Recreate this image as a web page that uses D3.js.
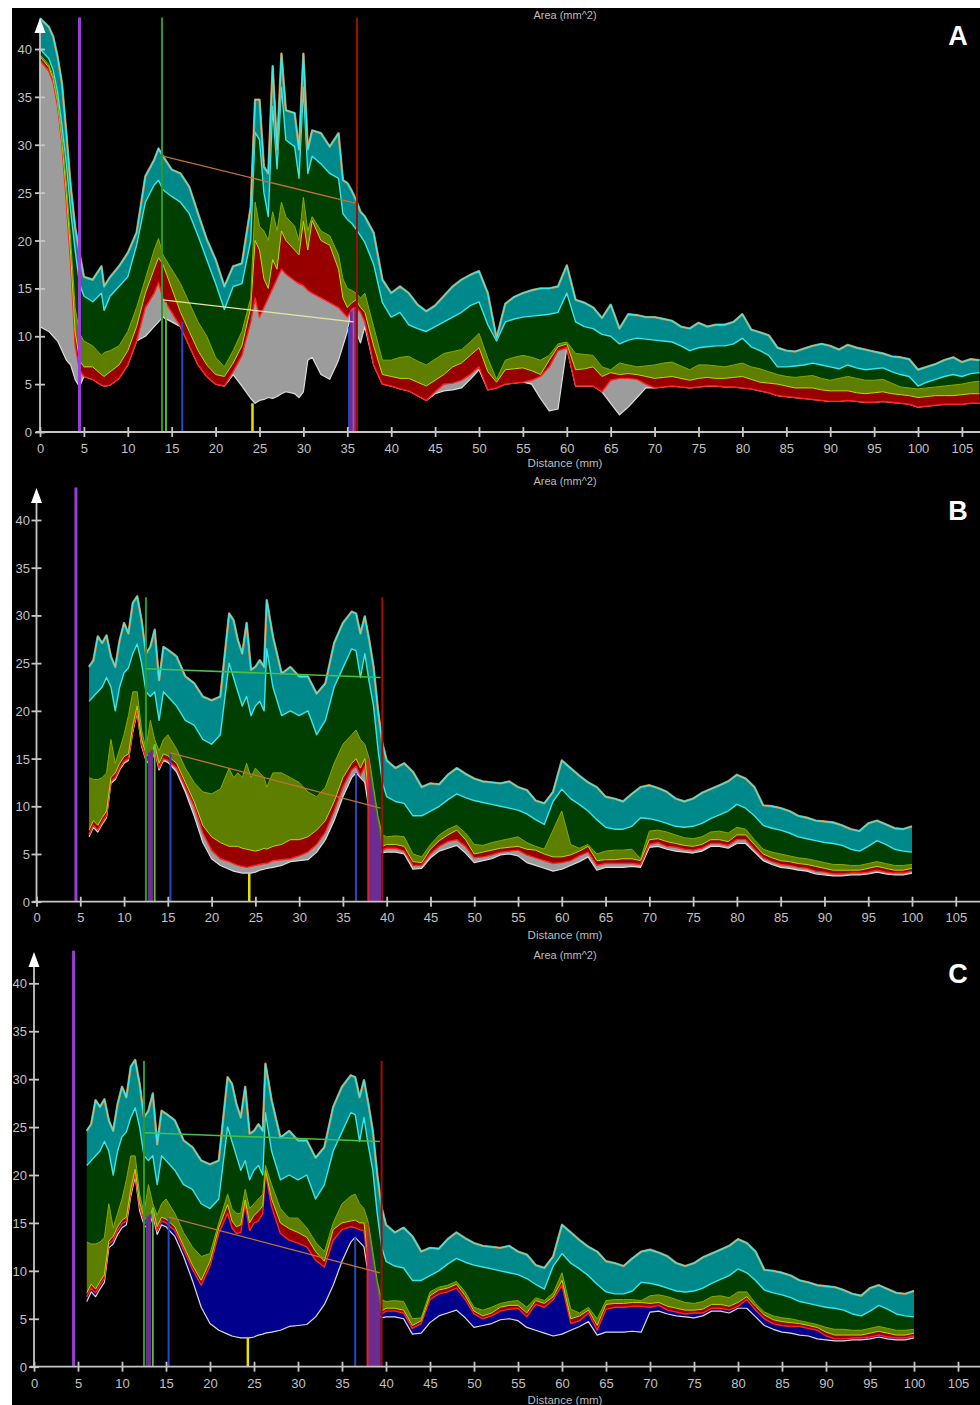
<!DOCTYPE html>
<html>
<head>
<meta charset="utf-8">
<script src="https://cdn.jsdelivr.net/npm/d3@7"></script>
<style>
  body { margin: 0; background: #fff; }
  svg { display: block; }
</style>
</head>
<body>
<script>
// ---- panel A: distance (mm) and layer boundaries (mm^2) ----
const distA = [0, 1, 1.5, 2, 2.5, 3, 3.5, 4, 4.5, 5, 6, 7, 7.3, 8, 9, 10, 11, 12, 13, 13.5,
  14, 15, 16, 17, 18, 19, 20, 21, 22, 23, 24, 24.5, 25, 25.5, 26, 26.5, 27, 27.5, 28, 29,
  29.5, 30, 30.5, 31, 32, 33, 34, 34.5, 35, 35.5, 36, 36.5, 37, 38, 39, 40,
  41, 42, 43, 44, 45, 46, 47, 48, 49, 50, 51, 52, 53, 54, 55, 56, 57, 58, 59, 60,
  61, 62, 63, 64, 65, 66, 67, 68, 69, 70, 71, 72, 73, 74, 75, 76, 77, 78, 79, 80,
  81, 82, 83, 84, 85, 86, 87, 88, 89, 90, 91, 92, 93, 94, 95, 96, 97, 98, 99, 100,
  101, 102, 103, 104, 105, 106, 107];
const tealHiA = [43.2, 42.3, 41.3, 39.2, 36.4, 31.2, 25.6, 21.4, 18.7, 16.2,
  15.9, 17.3, 15.2, 16.2, 17.3, 18.7, 20.8, 26.7, 28.4, 29.6,
  28.8, 27.4, 27.0, 25.6, 22.8, 20.1, 18.0, 15.2, 17.3, 17.6,
  23.5, 34.7, 34.7, 27.7, 27.0, 38.2, 29.5, 39.5, 33.6, 33.3,
  29.5, 39.5, 29.5, 31.5, 31.2, 29.8, 31.2, 26.3, 26.0, 25.2,
  24.2, 23.0, 22.5, 20.8, 15.9, 14.5,
  15.2, 14.5, 13.3, 12.6, 13.2, 14.2, 15.2, 15.9, 16.4, 16.8,
  14.5, 9.8, 13.4, 14.1, 14.5, 14.8, 15.0, 15.0, 15.2, 17.4,
  13.8, 13.5, 13.0, 11.9, 13.3, 10.8, 12.3, 12.2, 12.0, 12.0,
  11.8, 11.6, 11.0, 10.8, 11.4, 11.0, 11.2, 11.2, 11.5, 12.3,
  10.7, 10.4, 10.1, 8.8, 8.5, 8.4, 8.7, 9.0, 9.2, 9.0,
  8.6, 9.1, 8.8, 8.6, 8.4, 8.2, 7.9, 7.8, 7.6, 6.5,
  6.8, 7.1, 7.5, 7.8, 7.3, 7.6, 7.5];
const tealLoA = [40, 39, 37.8, 35.5, 32, 28, 23, 19, 15.5, 14.2,
  13.6, 14.5, 12.7, 14.2, 15.2, 16.2, 19.5, 24, 25.8, 26.3,
  25.3, 24.6, 24, 22.8, 20.5, 18, 15.5, 12.8, 15.2, 15.5,
  20, 31.3, 30.5, 25, 22.5, 34, 27.5, 36, 30.5, 29.8,
  26.5, 36, 27, 28.8, 28, 27, 26.5, 22.8, 22.2, 21.8,
  21.2, 20.5, 19.8, 17.5, 13.5, 12,
  12.5, 11.2, 10.8, 10.5, 11.0, 11.5, 12.0, 12.5, 13.2, 13.6,
  11.2, 9.5, 11.5, 11.8, 12.0, 12.1, 12.2, 12.3, 12.5, 14.5,
  11.5, 11.0, 10.8, 10.2, 10.0, 9.2, 9.6, 9.8, 9.7, 9.6,
  9.5, 9.4, 9.0, 8.5, 8.8, 8.9, 9.0, 9.0, 9.2, 9.8,
  8.9, 8.5, 8.0, 6.8, 6.8, 6.9, 7.0, 7.2, 7.0, 6.8,
  6.6, 7.0, 6.7, 6.5, 6.6, 6.7, 6.3, 6.0, 5.8, 4.8,
  5.2, 5.5, 5.8, 6.0, 5.8, 6.1, 6.2];
const oliveHiA = [39.4, 38.4, 37.2, 34.8, 31, 26, 20, 13, 10.3, 9.5,
  9.0, 8.0, 8.3, 8.5, 9.0, 10.5, 13.0, 16.0, 19.0, 20.2,
  18.5, 17.0, 15.5, 13.5, 11.5, 10.0, 7.8, 6.8, 8.5, 10.5,
  14.0, 24.0, 21.5, 21.0, 20.0, 23.0, 21.0, 24.0, 22.5, 21.5,
  20.0, 24.5, 21.0, 22.5, 21.0, 20.5, 18.5, 16.0, 15.0, 14.8,
  14.5, 14.0, 14.5, 11.0, 7.5, 7.5,
  7.8, 7.9, 7.4, 7.0, 7.6, 8.2, 8.4, 8.6, 9.4, 10.3,
  7.7, 5.5, 7.5, 7.8, 8.0, 7.8, 7.5, 8.0, 9.2, 9.4,
  8.2, 8.1, 8.0, 6.8, 6.5, 7.2, 7.0, 6.8, 6.9, 7.0,
  7.2, 7.3, 6.9, 6.5, 7.0, 7.0, 6.9, 6.8, 7.0, 7.2,
  6.8, 6.6, 6.3, 6.0, 5.8, 5.7, 5.8, 5.9, 5.6, 5.4,
  5.6, 5.8, 5.6, 5.4, 5.4, 5.5, 5.1, 4.7, 4.6, 4.5,
  4.6, 4.7, 4.8, 4.9, 5.0, 5.2, 5.3];
const redHiA = [39.2, 38.1, 36.9, 34.5, 30.5, 25, 18.5, 10.5, 7.5, 6.8,
  6.8, 6.0, 5.8, 6.3, 7.0, 8.5, 11.0, 14.5, 17.0, 18.2,
  17.5, 15.0, 12.5, 10.5, 8.5, 7.0, 6.0, 5.8, 7.2, 9.0,
  13.0, 20.0, 19.0, 16.0, 15.0, 18.0, 17.0, 21.0, 20.0, 19.0,
  18.5, 22.0, 19.0, 22.1, 20.0, 19.5, 17.0, 14.0, 13.0, 13.5,
  13.8, 13.0, 12.5, 9.0, 6.0, 5.8,
  5.6, 5.6, 5.2, 4.8, 5.4, 6.0, 6.8, 7.2, 8.0, 8.8,
  6.3, 5.2, 6.5, 6.6, 6.7, 6.4, 6.0, 7.5, 8.9, 9.2,
  6.5, 6.6, 6.8, 5.8, 6.2, 6.0, 6.1, 6.0, 5.8, 5.6,
  5.7, 5.8, 5.6, 5.4, 5.6, 5.7, 5.6, 5.6, 5.7, 5.8,
  5.5, 5.2, 5.1, 5.0, 4.8, 4.6, 4.6, 4.6, 4.4, 4.3,
  4.3, 4.3, 4.1, 4.0, 4.1, 4.2, 4.0, 3.9, 3.8, 3.6,
  3.7, 3.8, 3.8, 3.8, 3.9, 4.0, 4.0];
const redLoA = [38.8, 37.7, 36.5, 34.0, 30.0, 24.0, 17.5, 9.0, 6.5, 5.8,
  5.5, 4.9, 4.8, 4.9, 5.6, 7.0, 9.5, 13.0, 14.5, 15.6,
  14.0, 12.5, 11.0, 9.0, 7.0, 5.8, 5.0, 4.8, 6.3, 8.0,
  11.5, 14.0, 12.0, 13.0, 14.0, 15.0, 16.0, 17.0, 16.5, 15.8,
  15.5, 15.3, 14.8, 14.5, 14.0, 13.5, 13.0, 12.5, 12.0, 12.8,
  13.0, 12.5, 11.5, 7.0, 5.0, 4.8,
  4.5, 4.3, 3.8, 3.3, 4.2, 5.0, 5.1, 5.4, 6.0, 6.8,
  4.4, 4.6, 5.0, 5.1, 5.2, 5.4, 5.8, 6.8, 8.5, 8.8,
  4.8, 4.8, 4.8, 4.2, 5.4, 5.6, 5.6, 5.5, 5.0, 4.6,
  4.7, 4.8, 4.7, 4.6, 4.7, 4.8, 4.8, 4.7, 4.7, 4.6,
  4.5, 4.3, 4.1, 3.8, 3.7, 3.6, 3.5, 3.4, 3.3, 3.2,
  3.2, 3.3, 3.2, 3.1, 3.1, 3.2, 3.1, 3.0, 2.9, 2.6,
  2.7, 2.8, 2.9, 2.9, 2.9, 3.0, 3.0];
const lumenA = [11.0, 10.5, 10.0, 9.5, 8.5, 7.5, 7.0, 5.5, 4.7, 5.8,
  5.5, 4.9, 4.8, 4.9, 5.6, 7.0, 9.5, 10.0, 11.0, 11.5,
  12.0, 11.5, 11.0, 9.0, 7.0, 5.8, 5.0, 4.8, 6.0, 4.8,
  3.5, 3.0, 3.3, 3.4, 3.6, 3.5, 3.7, 4.0, 4.2, 4.0,
  3.6, 4.2, 7.5, 7.8, 6.0, 5.5, 7.5, 9.0, 10.5, 12.8,
  10.5, 9.3, 11.0, 7.0, 5.0, 4.8,
  4.5, 4.3, 3.8, 3.3, 4.0, 4.3, 4.4, 4.6, 5.5, 6.5,
  4.4, 4.6, 5.0, 5.1, 5.2, 5.0, 3.5, 2.2, 2.4, 8.8,
  4.8, 4.8, 4.8, 4.2, 3.0, 1.8, 2.6, 3.6, 4.6, 4.6,
  4.7, 4.8, 4.7, 4.6, 4.7, 4.8, 4.8, 4.7, 4.7, 4.6,
  4.5, 4.3, 4.1, 3.8, 3.7, 3.6, 3.5, 3.4, 3.3, 3.2,
  3.2, 3.3, 3.2, 3.1, 3.1, 3.2, 3.1, 3.0, 2.9, 2.6,
  2.7, 2.8, 2.9, 2.9, 2.9, 3.0, 3.0];

// ---- panels B and C share the distance grid ----
const distBC = [6, 6.5, 7, 7.5, 8, 8.5, 9, 9.5, 10, 10.5, 11, 11.5, 12, 12.5, 13, 13.5,
  14, 14.5, 15, 16, 17, 18, 19, 20, 21, 22, 22.5, 23, 23.5, 24, 24.5, 25, 25.5, 26, 26.3,
  27, 28, 29, 30, 31, 32, 33, 34, 35, 36, 36.5, 37, 37.5, 38, 38.5, 39, 39.5, 40,
  41, 42, 43, 44, 45, 46, 47, 48, 49, 50, 51, 52, 53, 54, 55, 56, 57, 58, 59, 60,
  61, 62, 63, 64, 65, 66, 67, 68, 69, 70, 71, 72, 73, 74, 75, 76, 77, 78, 79, 80,
  81, 82, 83, 84, 85, 86, 87, 88, 89, 90, 91, 92, 93, 94, 95, 96, 97, 98, 99, 100];
const tealHiB = [24.6, 25.3, 27.8, 27.1, 27.9, 25.7, 24.6, 27.4, 29.2, 28.1,
  31.3, 32.0, 29.5, 26.0, 26.7, 28.5, 23.2, 26.7, 26.4, 25.7,
  23.6, 22.9, 21.5, 21.1, 21.5, 30.2, 29.5, 27.4, 26.0, 29.2,
  24.3, 24.6, 25.3, 24.6, 31.6, 27.8, 23.9, 24.6, 23.6, 23.6,
  21.8, 22.9, 27.1, 29.2, 30.4, 30.2, 28.1, 29.9, 27.4, 24.6,
  20.1, 16.6, 14.8,
  14.0, 14.5, 13.6, 12.0, 12.4, 12.3, 13.3, 14.0, 13.4, 12.9,
  12.6, 12.5, 12.4, 12.6, 12.0, 11.7, 10.6, 10.3, 11.5, 14.8,
  14.0, 13.2, 12.5, 12.0, 11.0, 10.8, 10.5, 11.3, 12.0, 12.2,
  11.9, 11.5, 10.8, 10.5, 10.8, 11.4, 11.8, 12.2, 12.6, 13.3,
  12.9, 12.0, 10.1, 10.0, 9.8, 9.5, 9.0, 8.8, 8.5, 8.4,
  8.3, 8.0, 7.6, 7.4, 8.2, 8.5, 8.1, 7.7, 7.6, 7.9];
const tealLoB = [21.0, 21.5, 22.0, 22.5, 23.5, 22.5, 20.0, 22.5, 24.0, 24.5,
  26.0, 27.0, 25.0, 22.0, 21.5, 22.0, 19.0, 22.0, 21.5, 20.5,
  19.0, 18.5, 17.0, 16.5, 17.5, 25.0, 23.5, 22.0, 20.5, 21.5,
  19.5, 20.5, 21.0, 20.0, 26.5, 22.5, 19.5, 20.0, 19.5, 20.0,
  17.5, 19.0, 22.5, 24.5, 26.5, 26.3, 23.5, 26.0, 23.0, 20.5,
  16.0, 12.5, 11.0,
  10.5, 10.3, 9.0, 9.0, 9.5, 10.0, 10.7, 11.3, 10.9, 10.6,
  10.4, 10.2, 10.0, 9.8, 9.6, 9.2, 8.6, 8.1, 10.5, 11.8,
  10.8, 10.2, 9.5, 8.6, 7.8, 7.6, 7.6, 7.9, 8.8, 8.7,
  8.5, 8.2, 7.9, 7.8, 7.9, 8.2, 8.7, 9.1, 9.5, 10.2,
  9.8, 9.0, 8.0, 7.7, 7.5, 7.2, 6.8, 6.6, 6.4, 6.2,
  6.1, 5.9, 5.5, 5.3, 5.8, 6.4, 6.0, 5.5, 5.3, 5.2];
const oliveHiB = [13.0, 12.8, 12.8, 13.0, 13.5, 17.0, 14.5, 16.0, 17.5, 19.5,
  22.0, 22.0, 18.0, 16.0, 19.0, 17.0, 15.8, 17.0, 17.5, 16.0,
  14.0, 12.5, 11.5, 11.3, 11.8, 14.0, 13.0, 13.5, 13.0, 14.5,
  13.0, 14.0, 13.5, 13.0, 12.0, 13.5, 13.5, 13.0, 12.5, 11.5,
  11.0, 12.0, 14.5, 16.5, 17.5, 18.0, 17.0, 16.5, 15.0, 12.0,
  9.0, 7.0, 6.8,
  6.9, 6.8, 5.0, 4.7, 6.0, 7.0, 7.6, 8.0, 7.2, 6.0,
  5.9, 6.2, 6.4, 6.6, 6.8, 6.2, 5.8, 5.5, 7.5, 9.5,
  6.0, 5.6, 6.0, 5.0, 5.3, 5.4, 5.4, 5.5, 4.5, 7.4,
  7.5, 7.3, 7.0, 6.7, 6.6, 6.8, 7.3, 7.4, 7.2, 7.8,
  7.6, 6.5, 5.5, 5.2, 5.0, 4.8, 4.6, 4.5, 4.3, 4.1,
  3.9, 3.9, 3.8, 3.8, 4.0, 4.2, 4.0, 3.8, 3.8, 3.9];
const redHiB = [7.5, 8.5, 8.0, 8.8, 9.5, 13.0, 13.5, 14.5, 15.2, 15.5,
  18.5, 20.5, 17.0, 15.5, 15.0, 16.5, 14.5, 15.5, 15.3, 14.5,
  12.5, 10.5, 8.0, 6.8, 6.2, 5.8, 5.8, 5.8, 5.6, 5.5,
  5.4, 5.3, 5.4, 5.6, 5.5, 5.8, 6.0, 6.5, 6.5, 6.8,
  7.5, 8.5, 10.5, 13.0, 14.5, 15.0, 14.0, 15.0, 11.0, 8.5,
  6.5, 5.8, 6.0,
  6.0, 5.8, 4.2, 4.1, 5.5, 6.4, 7.0, 7.5, 6.5, 5.0,
  5.2, 5.4, 5.6, 5.7, 5.8, 5.5, 5.4, 5.0, 4.7, 4.7,
  4.9, 5.3, 5.8, 4.3, 4.4, 4.4, 4.5, 4.5, 4.3, 6.5,
  6.6, 6.3, 6.1, 5.9, 5.8, 6.0, 6.5, 6.5, 6.3, 7.0,
  7.0, 6.0, 5.0, 4.6, 4.3, 4.2, 4.0, 3.9, 3.7, 3.5,
  3.3, 3.3, 3.3, 3.3, 3.5, 3.7, 3.5, 3.3, 3.3, 3.5];
const redLoB = [7.0, 8.0, 7.5, 8.3, 9.0, 12.6, 13.0, 14.0, 14.7, 15.0,
  18.0, 20.0, 16.5, 15.0, 14.5, 16.0, 14.0, 15.0, 14.8, 14.0,
  12.0, 10.0, 7.2, 5.4, 4.5, 4.2, 4.0, 3.8, 3.7, 3.6,
  3.7, 3.8, 3.9, 4.0, 4.0, 4.3, 4.4, 4.5, 4.8, 5.2,
  6.0, 7.3, 9.5, 12.0, 13.8, 14.2, 13.2, 14.2, 10.0, 7.8,
  6.0, 5.4, 5.6,
  5.6, 5.3, 3.8, 3.8, 5.0, 5.8, 6.3, 6.5, 5.8, 4.6,
  4.7, 4.9, 5.2, 5.3, 5.4, 4.9, 4.6, 4.3, 4.0, 4.1,
  4.3, 4.8, 5.2, 3.8, 4.0, 4.0, 4.0, 4.0, 3.9, 6.0,
  6.2, 5.8, 5.7, 5.5, 5.4, 5.6, 6.1, 6.1, 5.9, 6.5,
  6.5, 5.5, 4.6, 4.2, 3.9, 3.8, 3.6, 3.5, 3.2, 3.1,
  2.9, 2.9, 3.0, 3.0, 3.1, 3.3, 3.1, 3.0, 3.0, 3.2];
const lumenB = [6.8, 7.8, 7.3, 8.1, 8.8, 12.4, 12.8, 13.8, 14.5, 14.8,
  17.8, 19.8, 16.3, 14.8, 14.3, 15.8, 13.8, 14.8, 14.6, 13.6,
  11.5, 9.0, 6.2, 4.5, 3.8, 3.4, 3.2, 3.1, 3.0, 3.0,
  3.0, 3.1, 3.3, 3.4, 3.5, 3.6, 3.8, 4.2, 4.3, 4.4,
  5.2, 6.5, 8.5, 11.0, 13.0, 13.5, 13.0, 12.5, 9.5, 7.3,
  5.7, 5.1, 5.2,
  5.2, 5.0, 3.4, 3.5, 4.6, 5.3, 5.6, 5.9, 5.1, 4.1,
  4.3, 4.5, 4.9, 5.0, 4.8, 4.1, 3.8, 3.5, 3.2, 3.4,
  3.8, 4.2, 4.7, 3.3, 3.6, 3.6, 3.6, 3.7, 3.6, 5.7,
  5.8, 5.5, 5.3, 5.2, 5.1, 5.3, 5.8, 5.8, 5.6, 6.1,
  6.1, 5.2, 4.3, 3.9, 3.6, 3.5, 3.3, 3.2, 2.9, 2.8,
  2.7, 2.7, 2.8, 2.8, 2.9, 3.1, 2.9, 2.8, 2.8, 3.0];
// panel C: blue layer above the lumen, then red and olive pushed up
const blueHiC = [7.3, 8.2, 7.7, 8.5, 9.2, 12.8, 13.2, 14.2, 14.9, 15.2,
  18.2, 20.2, 16.7, 15.2, 14.7, 16.2, 14.2, 15.2, 15.0, 14.2,
  12.2, 10.2, 8.5, 10.5, 13.9, 16.0, 14.5, 13.9, 14.0, 17.0,
  14.2, 15.0, 15.2, 16.0, 20.2, 16.7, 13.9, 13.2, 12.9, 12.5,
  11.1, 10.4, 13.2, 14.3, 14.6, 14.5, 14.3, 14.2, 10.2, 8.0,
  6.2, 5.5, 5.8,
  5.8, 5.6, 4.0, 4.5, 7.0, 7.6, 7.8, 8.2, 7.0, 5.5,
  5.0, 5.3, 5.8, 6.0, 6.1, 5.2, 6.5, 6.2, 7.0, 8.5,
  4.5, 4.8, 5.6, 3.8, 6.0, 6.2, 6.2, 6.3, 6.3, 6.2,
  6.4, 5.9, 5.7, 5.5, 5.6, 5.6, 6.1, 6.1, 5.9, 6.3,
  7.0, 5.9, 5.0, 4.5, 4.3, 4.2, 4.2, 4.0, 3.8, 3.2,
  2.9, 2.9, 3.0, 3.0, 3.1, 3.3, 3.1, 3.0, 3.0, 3.2];
const redHiC = [7.7, 8.6, 8.1, 8.9, 9.6, 13.1, 13.6, 14.6, 15.3, 15.6,
  18.6, 20.6, 17.1, 15.6, 15.1, 16.6, 14.6, 15.6, 15.4, 14.6,
  12.6, 10.6, 9.0, 11.0, 14.5, 16.9, 15.2, 14.6, 14.8, 17.4,
  15.0, 15.8, 16.2, 16.8, 20.5, 17.5, 15.0, 14.4, 14.0, 13.5,
  12.0, 11.0, 14.3, 15.0, 15.2, 15.3, 15.0, 15.0, 11.0, 8.5,
  6.5, 5.8, 6.1,
  6.1, 5.9, 4.3, 4.8, 7.4, 8.0, 8.2, 8.6, 7.4, 5.8,
  5.3, 5.6, 6.2, 6.4, 6.4, 5.6, 6.9, 6.6, 7.3, 9.0,
  5.0, 5.3, 5.9, 4.3, 6.5, 6.6, 6.6, 6.7, 6.7, 6.6,
  6.7, 6.3, 6.1, 5.9, 5.9, 6.0, 6.5, 6.5, 6.3, 6.7,
  7.3, 6.3, 5.4, 4.9, 4.7, 4.6, 4.5, 4.3, 4.1, 3.6,
  3.3, 3.3, 3.3, 3.3, 3.5, 3.7, 3.5, 3.3, 3.3, 3.5];
const oliveHiC = [13.0, 12.8, 12.8, 13.0, 13.5, 17.0, 14.5, 16.0, 17.5, 19.5,
  22.0, 22.0, 18.0, 16.0, 19.0, 17.0, 15.8, 17.0, 17.5, 16.0,
  14.0, 12.5, 11.5, 11.8, 15.0, 18.0, 16.5, 16.0, 16.0, 18.5,
  16.5, 17.0, 17.5, 18.0, 21.0, 19.0, 16.5, 15.5, 15.5, 14.5,
  13.0, 12.0, 15.0, 17.0, 17.8, 18.0, 17.0, 16.5, 15.0, 12.0,
  9.0, 7.0, 6.8,
  6.9, 6.8, 5.0, 5.1, 7.8, 8.3, 8.5, 8.9, 7.8, 6.2,
  5.9, 6.2, 6.6, 6.8, 6.9, 6.2, 7.2, 6.9, 7.7, 9.8,
  6.0, 5.6, 6.2, 5.0, 6.9, 7.0, 7.0, 7.0, 6.9, 7.4,
  7.5, 7.3, 7.0, 6.7, 6.6, 6.8, 7.3, 7.4, 7.2, 7.8,
  7.8, 6.6, 5.7, 5.3, 5.1, 5.0, 4.8, 4.6, 4.4, 4.1,
  3.9, 3.9, 3.8, 3.8, 4.0, 4.2, 4.0, 3.8, 3.8, 3.9];

// ---- markers (distance mm, area mm^2) ----
const markersA = [
  { kind: "purple", x: 4.5, top: 43.3 },
  { kind: "green", x: 13.9, top: 43.3 },
  { kind: "lime", x: 14.35, top: 13.5 },
  { kind: "blue", x: 16.2, top: 11.5 },
  { kind: "yellow", x: 24.2, top: 3.0 },
  { kind: "blue", x: 35.2, top: 11.0 },
  { kind: "pink", x: 35.7, top: 13.0 },
  { kind: "darkred", x: 36.1, top: 43.3 }
];
const bandsA = [{ x0: 35.3, x1: 36.0, top0: 12.5, top1: 13.0 }];
const segmentsA = [
  { kind: "orange", x0: 14.0, y0: 28.8, x1: 35.9, y1: 23.9 },
  { kind: "pale", x0: 14.0, y0: 13.8, x1: 35.7, y1: 11.5 }
];
const markersBC = [
  { kind: "purple", x: 4.5, top: 43.4 },
  { kind: "green", x: 12.5, top: 31.9 },
  { kind: "lime", x: 13.5, top: 16.5 },
  { kind: "blue", x: 15.3, top: 15.5 },
  { kind: "yellow", x: 24.3, top: 3.0 },
  { kind: "blue", x: 36.5, top: 13.5 },
  { kind: "red", x: 37.9, top: 15.0 },
  { kind: "darkred", x: 39.5, top: 31.9 }
];
const bandsBC = [
  { x0: 12.7, x1: 13.3, top0: 15.5, top1: 16.0 },
  { x0: 37.9, x1: 39.4, top0: 14.5, top1: 6.0 }
];
const segmentsBC = [
  { kind: "green2", x0: 12.6, y0: 24.4, x1: 39.3, y1: 23.5 },
  { kind: "orange", x0: 15.3, y0: 15.6, x1: 39.3, y1: 9.8 }
];

const xTicks = [0, 5, 10, 15, 20, 25, 30, 35, 40, 45, 50, 55, 60, 65, 70, 75, 80, 85, 90, 95, 100, 105];
const yTicks = [0, 5, 10, 15, 20, 25, 30, 35, 40];

const W = 980, H = 1405;
const markStyle = {
  purple: ["#9a3ed8", 3], green: ["#2c9a2c", 2], lime: ["#62c236", 1.8],
  blue: ["#2a46c8", 2], yellow: ["#e6de00", 2.5], pink: ["#d04a90", 1.5],
  darkred: ["#a00c0c", 2], red: ["#e0202a", 2],
  orange: ["#c27236", 1.3], pale: ["#e4e4a8", 1.3], green2: ["#46c046", 1.5]
};

const svg = d3.select("body").append("svg").attr("width", W).attr("height", H);
svg.append("rect").attr("width", W).attr("height", H).attr("fill", "#fff");
svg.append("rect").attr("x", 12).attr("y", 8).attr("width", W - 12).attr("height", H - 8).attr("fill", "#000");

const panels = [
  { letter: "A", x0: 40, x100: 918, y0: 432, y40: 49, arrowTop: 18, titleY: 19, xlabY: 467, tickY: 453, ylabRight: 32, letterY: 45,
    dist: distA, lumen: lumenA, redLo: redLoA, redHi: redHiA, oliveHi: oliveHiA, tealLo: tealLoA, tealHi: tealHiA,
    baseFill: "#9c9c9c", markers: markersA, bands: bandsA, segments: segmentsA },
  { letter: "B", x0: 36.5, x100: 912, y0: 901.7, y40: 520, arrowTop: 488, titleY: 485, xlabY: 939, tickY: 922, ylabRight: 30, letterY: 520,
    dist: distBC, lumen: lumenB, redLo: redLoB, redHi: redHiB, oliveHi: oliveHiB, tealLo: tealLoB, tealHi: tealHiB,
    baseFill: "#9c9c9c", markers: markersBC, bands: bandsBC, segments: segmentsBC },
  { letter: "C", x0: 34, x100: 914, y0: 1366.7, y40: 983.3, arrowTop: 952, titleY: 959, xlabY: 1404, tickY: 1388, ylabRight: 27, letterY: 983,
    dist: distBC, lumen: lumenB, redLo: blueHiC, redHi: redHiC, oliveHi: oliveHiC, tealLo: tealLoB, tealHi: tealHiB,
    baseFill: "#00008c", markers: markersBC, bands: bandsBC, segments: segmentsBC }
];

panels.forEach(drawPanel);

// white margin on the left edge of the figure
svg.append("rect").attr("width", 12).attr("height", H).attr("fill", "#fff");

function drawPanel(p) {
  const x = d3.scaleLinear().domain([0, 100]).range([p.x0, p.x100]);
  const y = d3.scaleLinear().domain([0, 40]).range([p.y0, p.y40]);
  const g = svg.append("g");
  const idx = d3.range(p.dist.length);

  const fillBand = (lo, hi, colour) => {
    const area = d3.area().x(i => x(p.dist[i])).y0(i => y(lo[i])).y1(i => y(hi[i]));
    g.append("path").datum(idx).attr("d", area).attr("fill", colour);
  };
  const edge = (s, colour, width) => {
    const line = d3.line().x(i => x(p.dist[i])).y(i => y(s[i]));
    g.append("path").datum(idx).attr("d", line)
      .attr("fill", "none").attr("stroke", colour).attr("stroke-width", width)
      .attr("stroke-linejoin", "round");
  };

  fillBand(p.lumen, p.redLo, p.baseFill);
  edge(p.lumen, "#dcdcdc", 1.2);
  fillBand(p.redLo, p.redHi, "#980000");
  edge(p.redLo, "#ff2424", 1.4);
  fillBand(p.redHi, p.oliveHi, "#5e7e00");
  edge(p.redHi, "#c2da00", 1);
  fillBand(p.oliveHi, p.tealLo, "#003f00");
  edge(p.oliveHi, "#86ae00", 1);
  fillBand(p.tealLo, p.tealHi, "#00898b");
  edge(p.tealLo, "#3ae6e6", 1.4);
  edge(p.tealHi, "#cf7a2c", 2.4);
  edge(p.tealHi, "#3ceaea", 1.4);

  // annotation bands, vertical markers and reference segments
  p.bands.forEach(b => {
    g.append("path")
      .attr("d", `M${x(b.x0)},${y(0)}L${x(b.x0)},${y(b.top0)}L${x(b.x1)},${y(b.top1)}L${x(b.x1)},${y(0)}Z`)
      .attr("fill", "#6b2d90");
  });
  p.markers.forEach(m => {
    const [c, w] = markStyle[m.kind];
    g.append("line").attr("x1", x(m.x)).attr("x2", x(m.x)).attr("y1", y(0)).attr("y2", y(m.top))
      .attr("stroke", c).attr("stroke-width", w);
  });
  p.segments.forEach(s => {
    const [c, w] = markStyle[s.kind];
    g.append("line").attr("x1", x(s.x0)).attr("y1", y(s.y0)).attr("x2", x(s.x1)).attr("y2", y(s.y1))
      .attr("stroke", c).attr("stroke-width", w);
  });

  // axes
  const axisColour = "#c6c6c6";
  const font = "'Liberation Sans', Arial, sans-serif";
  g.append("line").attr("x1", p.x0 - 4).attr("x2", W).attr("y1", p.y0).attr("y2", p.y0)
    .attr("stroke", axisColour).attr("stroke-width", 1.8);
  g.append("line").attr("x1", p.x0).attr("x2", p.x0).attr("y1", p.y0).attr("y2", p.arrowTop + 12)
    .attr("stroke", axisColour).attr("stroke-width", 1.8);
  g.append("path")
    .attr("d", `M${p.x0},${p.arrowTop}L${p.x0 - 5.5},${p.arrowTop + 15}L${p.x0 + 5.5},${p.arrowTop + 15}Z`)
    .attr("fill", "#fff");

  const xa = g.append("g").attr("transform", `translate(0,${p.y0})`)
    .call(d3.axisBottom(x).tickValues(xTicks).tickSize(5));
  xa.select(".domain").remove();
  xa.selectAll(".tick line").attr("y1", -5).attr("y2", 5).attr("stroke", axisColour).attr("stroke-width", 1.8);
  xa.selectAll(".tick text").attr("y", p.tickY - p.y0).attr("dy", null)
    .attr("fill", "#c2c2c2").attr("font-size", 13).attr("font-family", font);

  const ya = g.append("g").attr("transform", `translate(${p.x0},0)`)
    .call(d3.axisLeft(y).tickValues(yTicks).tickSize(5));
  ya.select(".domain").remove();
  ya.selectAll(".tick line").attr("x1", 5).attr("x2", -5).attr("stroke", axisColour).attr("stroke-width", 1.8);
  ya.selectAll(".tick text").attr("x", p.ylabRight - p.x0).attr("dy", "0.35em")
    .attr("fill", "#c2c2c2").attr("font-size", 13).attr("font-family", font);

  g.append("text").attr("x", 565).attr("y", p.titleY).attr("text-anchor", "middle")
    .attr("fill", "#bdbdbd").attr("font-size", 11).attr("font-family", font).text("Area (mm^2)");
  g.append("text").attr("x", 565).attr("y", p.xlabY).attr("text-anchor", "middle")
    .attr("fill", "#bdbdbd").attr("font-size", 11.5).attr("font-family", font).text("Distance (mm)");
  g.append("text").attr("x", 958).attr("y", p.letterY).attr("text-anchor", "middle")
    .attr("fill", "#fff").attr("font-size", 27).attr("font-weight", "bold").attr("font-family", font)
    .text(p.letter);
}
</script>
</body>
</html>
